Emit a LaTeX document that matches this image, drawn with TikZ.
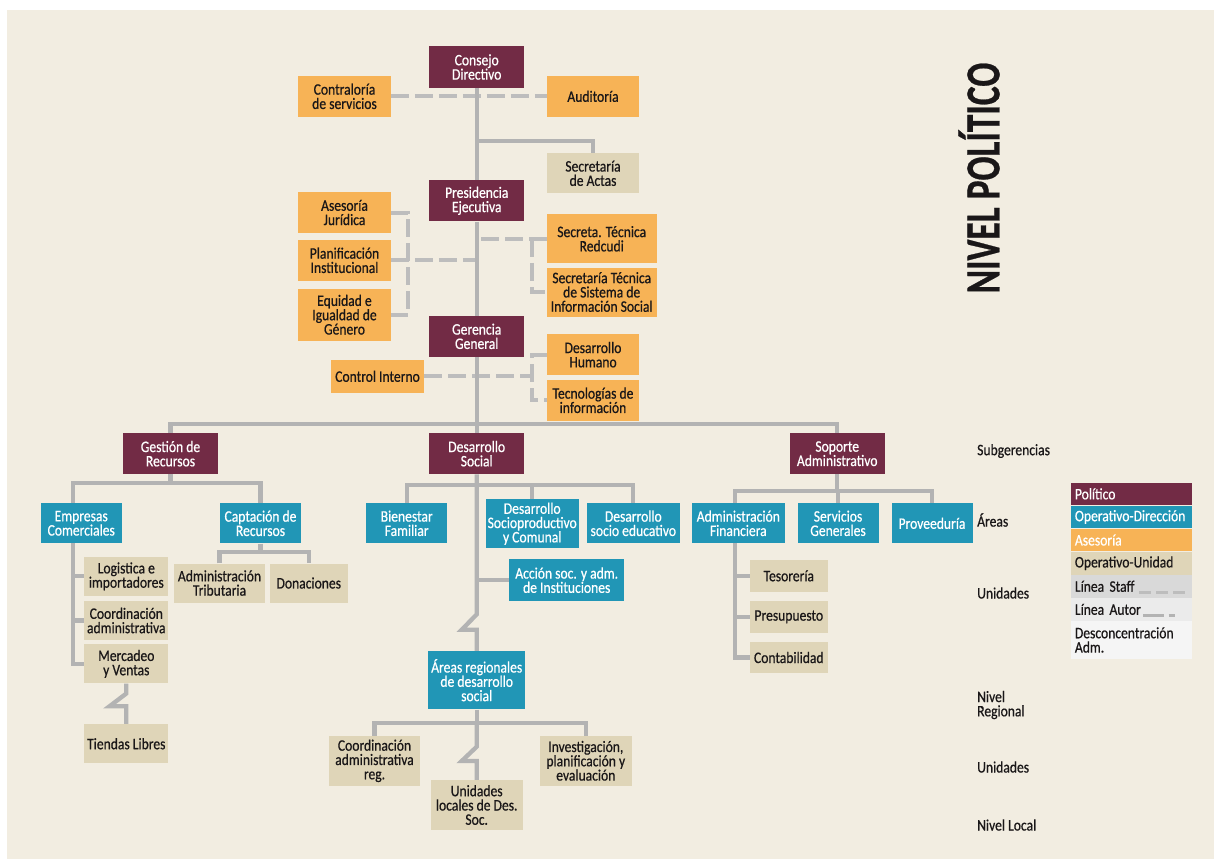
\documentclass[tikz,border=0pt]{standalone}
\usepackage{fontspec}
\setmainfont[FakeStretch=0.85, FakeBold=0.6]{Carlito}
\usetikzlibrary{positioning,calc}

\definecolor{bgcol}{HTML}{F2EDE1}
\definecolor{polcol}{HTML}{722B45}
\definecolor{dircol}{HTML}{2196B6}
\definecolor{asecol}{HTML}{F7B356}
\definecolor{unicol}{HTML}{DFD5B8}
\definecolor{linecol}{HTML}{B3B3B3}
\definecolor{dashcol}{HTML}{BDBDBD}
\definecolor{stafcol}{HTML}{D9D9D9}
\definecolor{autcol}{HTML}{EBEBEB}
\definecolor{descol}{HTML}{F5F5F5}
\definecolor{txtcol}{HTML}{1A1718}

\pgfdeclarelayer{back}
\pgfdeclarelayer{lines}
\pgfsetlayers{back,lines,main}

\newcommand{\boxfont}{\fontsize{16}{14.3}\selectfont}

\tikzset{
  box/.style = {inner sep=1pt, align=center, font=\boxfont, text=txtcol},
  pol/.style = {box, fill=polcol, text=white, minimum width=95pt, minimum height=41pt},
  dir/.style = {box, fill=dircol, text=white, minimum width=81pt, minimum height=40pt},
  ase/.style = {box, fill=asecol, minimum width=92.5pt, minimum height=40.7pt},
  uni/.style = {box, fill=unicol, minimum width=84pt, minimum height=39pt},
  leg/.style = {box, minimum width=121pt, minimum height=22.7pt, text width=113pt, align=left, inner sep=4pt},
  lvl/.style = {box, anchor=west, align=left},
  autor/.style = {draw=linecol, line width=4.3pt},
  staff/.style = {draw=dashcol, line width=4pt, dash pattern=on 18pt off 6pt},
}

\begin{document}
\begin{tikzpicture}[x=1pt, y=-1pt]
  \useasboundingbox (0,0) rectangle (1214,859);
  \begin{pgfonlayer}{back}
    \fill[white] (0,0) rectangle (1214,859);
    \fill[bgcol] (7,10) rectangle (1214,859);
  \end{pgfonlayer}

  % nivel politico
  \node[pol] (cd) at (476.7,67) {Consejo\\Directivo};
  \node[pol] (pe) at (476.7,200.8) {Presidencia\\Ejecutiva};
  \node[pol] (gg) at (476.7,336.3) {Gerencia\\General};

  \node[ase] (cs) at (344.5,96.3) {Contraloría\\de servicios};
  \node[ase] (aud) at (593,96.3) {Auditoría};
  \node[uni, minimum width=92.5pt, minimum height=40pt] (sac) at (593,173.3) {Secretaría\\de Actas};

  \node[ase] (aj) at (344.5,212.5) {Asesoría\\Jurídica};
  \node[ase] (pi) at (344.5,260.3) {Planificación\\Institucional};
  \node[ase, minimum height=52pt] (eq) at (344.5,314.7) {Equidad e\\Igualdad de\\Género};
  \node[ase, minimum width=110pt, minimum height=49pt] (str) at (601.7,238.8) {Secreta. Técnica\\Redcudi};
  \node[ase, minimum width=110pt, minimum height=49pt] (sts) at (601.7,292) {Secretaría Técnica\\de Sistema de\\Información Social};

  \node[ase] (dh) at (593,354.7) {Desarrollo\\Humano};
  \node[ase, minimum width=93pt, minimum height=32.7pt] (ci) at (377.5,376.3) {Control Interno};
  \node[ase] (ti) at (593,400.3) {Tecnologías de\\información};

  % subgerencias
  \node[pol] (gr) at (170.5,453.7) {Gestión de\\Recursos};
  \node[pol] (ds) at (476.7,453.7) {Desarrollo\\Social};
  \node[pol] (soa) at (837.2,453.7) {Soporte\\Administrativo};

  % areas
  \node[dir] (ec) at (81.2,523.3) {Empresas\\Comerciales};
  \node[dir] (cr) at (260.5,523.3) {Captación de\\Recursos};
  \node[dir] (bf) at (406.7,523.3) {Bienestar\\Familiar};
  \node[dir, minimum width=93pt, minimum height=49pt] (dsc) at (532.2,523.8) {Desarrollo\\Socioproductivo\\y Comunal};
  \node[dir, minimum width=93pt] (dse) at (633.3,523.3) {Desarrollo\\socio educativo};
  \node[dir, minimum width=93pt] (af) at (738.3,523.3) {Administración\\Financiera};
  \node[dir] (sg) at (838,523.3) {Servicios\\Generales};
  \node[dir] (prov) at (932,523.3) {Proveeduría};
  \node[dir, minimum width=114.7pt, minimum height=41.7pt] (asi) at (566.7,580.2) {Acción soc. y adm.\\de Instituciones};

  % unidades
  \node[uni] (li) at (126.3,576.3) {Logistica e\\importadores};
  \node[uni] (ca) at (126.3,620.5) {Coordinación\\administrativa};
  \node[uni] (mv) at (126.3,663.8) {Mercadeo\\y Ventas};
  \node[uni] (tl) at (126.3,743.7) {Tiendas Libres};
  \node[uni, minimum width=91pt] (at) at (219.5,583) {Administración\\Tributaria};
  \node[uni, minimum width=77.7pt] (don) at (308.8,583) {Donaciones};
  \node[uni, minimum width=77.7pt, minimum height=31.7pt] (tes) at (788.8,575.8) {Tesorería};
  \node[uni, minimum width=77.7pt, minimum height=31.7pt] (pre) at (788.8,616.8) {Presupuesto};
  \node[uni, minimum width=77.7pt, minimum height=31.7pt] (con) at (788.8,657.5) {Contabilidad};

  % nivel regional y local
  \node[dir, minimum width=97.3pt, minimum height=58.3pt] (ar) at (476.7,680.2) {Áreas regionales\\de desarrollo\\social};
  \node[uni, minimum width=91pt, minimum height=50pt] (car) at (374.5,760.8) {Coordinación\\administrativa\\reg.};
  \node[uni, minimum width=91.7pt, minimum height=50pt] (ul) at (476.7,805) {Unidades\\locales de Des.\\Soc.};
  \node[uni, minimum width=91.7pt, minimum height=50pt] (ipe) at (585.8,760.8) {Investigación,\\planificación y\\evaluación};

  % junctions
  \coordinate (sacj) at (476.7,141);
  \coordinate (mainbar) at (476.7,424.3);
  \coordinate (grbar) at (170.5,483.3);
  \coordinate (crbar) at (260.5,551.7);
  \coordinate (dsbar) at (476.7,485);
  \coordinate (arbar) at (476.7,722.7);
  \coordinate (soabar) at (837.2,490.7);
  \coordinate (ecx) at (73.3,0);
  \coordinate (afx) at (735,0);
  \coordinate (asex) at (408.3,0);
  \coordinate (secx) at (532.3,0);

  \begin{pgfonlayer}{lines}
    % linea staff
    \draw[staff] (cs.east) -- (aud.west);
    \draw[staff] (aj.east) -| (asex |- eq.east) -- (eq.east);
    \draw[staff] (pi.east) -- (pi.east -| pe.south);
    \draw[staff] (str.west) -- (str.west -| pe.south);
    \draw[staff] (secx |- str.west) |- (sts.west);
    \draw[staff] (ci.east) -- (ci.east -| secx);
    \draw[staff] (dh.west) -| (secx |- ti.west) -- (ti.west);

    % linea autoridad
    \draw[autor] (cd.south) -- (pe.north);
    \draw[autor] (pe.south) -- (gg.north);
    \draw[autor] (sacj) -| (sac.north);
    \draw[autor] (gg.south) -- (ds.north);
    \draw[autor] (gr.north) |- (mainbar) -| (soa.north);

    \draw[autor] (gr.south) -- (grbar);
    \draw[autor] (cr.north) |- (grbar -| ecx) |- (mv.west);
    \draw[autor] (li.west) -- (li.west -| ecx);
    \draw[autor] (ca.west) -- (ca.west -| ecx);
    \draw[autor] (mv.south) -- ++(0,10) -- ++(-16.7,12.7) -- ++(16.7,0) -- (tl.north);
    \draw[autor] (cr.south) -- (crbar);
    \draw[autor] (at.north) |- (crbar) -| (don.north);

    \draw[autor] (bf.north) |- (dsbar) -| (dse.north);
    \draw[autor] (dsc.north) -- (dsc.north |- dsbar);
    \draw[autor] (asi.west) -- (asi.west -| ds.south);
    \draw[autor] (ds.south) -- ++(0,140) -- ++(-15,15.3) -- ++(15,0) -- (ar.north);

    \draw[autor] (ar.south) -- (arbar);
    \draw[autor] (car.north) |- (arbar) -| (ipe.north);
    \draw[autor] (arbar) -- ++(0,24) -- ++(-15,14.3) -- ++(15,0) -- (ul.north);

    \draw[autor] (soa.south) -- (soabar);
    \draw[autor] (prov.north) |- (soabar -| afx) |- (con.west);
    \draw[autor] (sg.north) -- (sg.north |- soabar);
    \draw[autor] (tes.west) -- (tes.west -| afx);
    \draw[autor] (pre.west) -- (pre.west -| afx);
  \end{pgfonlayer}

  % niveles
  \node[rotate=90, text=txtcol] (title) at (979,178) {\scalebox{0.85}[1]{\fontsize{49}{49}\selectfont\bfseries NIVEL POLÍTICO}};
  \node[lvl] (lsub) at (976,451) {Subgerencias};
  \node[lvl] (lare) at (976,520) {Áreas};
  \node[lvl] (luni1) at (976,593) {Unidades};
  \node[lvl] (lreg) at (976,705) {Nivel\\Regional};
  \node[lvl] (luni2) at (976,767) {Unidades};
  \node[lvl] (lloc) at (976,825) {Nivel Local};

  % leyenda
  \node[leg, fill=polcol, text=white, anchor=north west] (lpol) at (1070.7,482.3) {Político};
  \node[leg, fill=dircol, text=white, below=0pt of lpol] (ldir) {Operativo-Dirección};
  \node[leg, fill=asecol, text=white, below=0pt of ldir] (lase) {Asesoría};
  \node[leg, fill=unicol, below=0pt of lase] (luni) {Operativo-Unidad};
  \node[leg, fill=stafcol, below=0pt of luni] (lsta) {Línea Staff};
  \node[leg, fill=autcol, below=0pt of lsta] (laut) {Línea Autor};
  \node[leg, fill=descol, minimum height=37.7pt, below=0pt of laut] (ldes) {Desconcentración\\Adm.};
  \draw[dashcol, line width=3pt, dash pattern=on 12pt off 5pt] ($(lsta.east)+(-52.7,6.4)$) -- ++(46,0);
  \draw[linecol, line width=3pt, dash pattern=on 20.6pt off 5pt on 6.7pt off 100pt] ($(laut.east)+(-49,6.1)$) -- ++(32.3,0);
\end{tikzpicture}
\end{document}
